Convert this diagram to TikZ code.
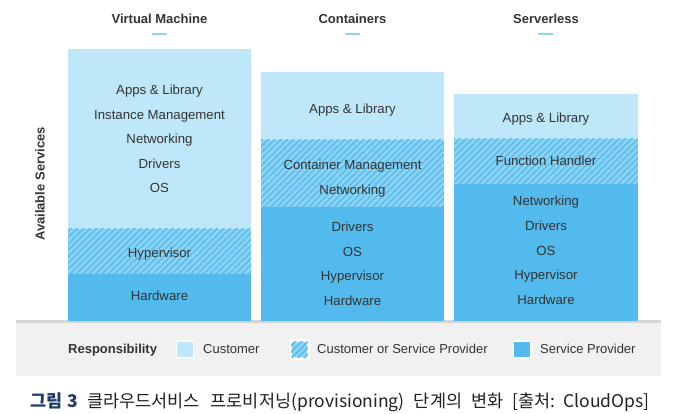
\documentclass[tikz,border=0pt]{standalone}
\usepackage{fontspec}
\setmainfont{Liberation Sans}
\newfontfamily\krfont{Noto Sans CJK KR}
\usetikzlibrary{patterns.meta}
\definecolor{lightb}{HTML}{BEE8FA}
\definecolor{darkb}{HTML}{52BAEC}
\definecolor{hatchbase}{HTML}{8DD3F4}
\definecolor{hatchline}{HTML}{5CBEEE}
\definecolor{txt}{HTML}{333333}
\definecolor{captxt}{HTML}{222222}
\definecolor{bandc}{HTML}{F1F1F1}
\definecolor{bandline}{HTML}{D6D6D6}
\definecolor{navy}{HTML}{1F3A6B}
\definecolor{ulc}{HTML}{8ED3F3}
\tikzset{
 lbl/.style={font=\fontsize{13.2}{15}\selectfont, text=txt, inner sep=0pt, anchor=base},
 head/.style={font=\bfseries\fontsize{13}{15}\selectfont, text=txt, inner sep=0pt},
 hatch/.style={pattern={Lines[angle=45,distance=4.5pt,line width=1.6pt]}, pattern color=hatchline},
 legbox/.style={draw=white, line width=1.5pt, minimum width=17pt, minimum height=17pt, inner sep=0pt},
 legtxt/.style={font=\fontsize{13}{15}\selectfont, text=txt, inner sep=0pt, anchor=base west},
 uline/.style={draw=ulc, line width=2pt},
}
\begin{document}
\begin{tikzpicture}[x=1pt,y=-1pt]
\useasboundingbox (0,0) rectangle (678,414);
\fill[white] (0,0) rectangle (678,414);
% band
\fill[bandc] (16,321) rectangle (661,376);
\fill[bandline] (16,320) rectangle (661,323);
% VM column
\fill[lightb] (68,49.5) rectangle (251,229);
\fill[hatchbase] (68,229) rectangle (251,274);
\fill[hatch] (68,229) rectangle (251,274);
\fill[darkb] (68,274) rectangle (251,321);
% Containers column
\fill[lightb] (261,72) rectangle (444,140);
\fill[hatchbase] (261,140) rectangle (444,207);
\fill[hatch] (261,140) rectangle (444,207);
\fill[darkb] (261,207) rectangle (444,321);
% Serverless column
\fill[lightb] (454,94) rectangle (638,139);
\fill[hatchbase] (454,139) rectangle (638,184);
\fill[hatch] (454,139) rectangle (638,184);
\fill[darkb] (454,184) rectangle (638,321);
% headers
\node[head, anchor=base] (h1) at (159.5,23.3) {Virtual Machine};
\node[head, anchor=base] (h2) at (352.5,23.3) {Containers};
\node[head, anchor=base] (h3) at (546,23.3) {Serverless};
\coordinate (u1a) at (152,34); \coordinate (u1b) at (167,34);
\coordinate (u2a) at (345,34); \coordinate (u2b) at (360,34);
\coordinate (u3a) at (538,34); \coordinate (u3b) at (553,34);
\draw[uline] (u1a) -- (u1b);
\draw[uline] (u2a) -- (u2b);
\draw[uline] (u3a) -- (u3b);
\node[head, rotate=90] (avail) at (40,184) {Available Services};
% VM labels
\node[lbl] (v1) at (159.5,95) {Apps \& Library};
\node[lbl] (v2) at (159.5,119.5) {Instance Management};
\node[lbl] (v3) at (159.5,144) {Networking};
\node[lbl] (v4) at (159.5,168.3) {Drivers};
\node[lbl] (v5) at (159.5,192.7) {OS};
\node[lbl] (v6) at (159.5,257.5) {Hypervisor};
\node[lbl] (v7) at (159.5,300.8) {Hardware};
% Containers labels
\node[lbl] (c1) at (352.5,114) {Apps \& Library};
\node[lbl] (c2) at (352.5,170) {Container Management};
\node[lbl] (c3) at (352.5,194.3) {Networking};
\node[lbl] (c4) at (352.5,231.7) {Drivers};
\node[lbl] (c5) at (352.5,256.5) {OS};
\node[lbl] (c6) at (352.5,280.7) {Hypervisor};
\node[lbl] (c7) at (352.5,305.3) {Hardware};
% Serverless labels
\node[lbl] (s1) at (546,122.3) {Apps \& Library};
\node[lbl] (s2) at (546,165.7) {Function Handler};
\node[lbl] (s3) at (546,206) {Networking};
\node[lbl] (s4) at (546,230.7) {Drivers};
\node[lbl] (s5) at (546,255.2) {OS};
\node[lbl] (s6) at (546,280) {Hypervisor};
\node[lbl] (s7) at (546,304.3) {Hardware};
% legend
\node[head, anchor=base west] (resp) at (68,353.3) {Responsibility};
\node[legbox, fill=lightb] (k1) at (185,349.5) {};
\node[legtxt] (t1) at (203,353.3) {Customer};
\node[legbox, fill=hatchbase] (k2) at (299.5,349.5) {};
\fill[hatch] (k2.south west) rectangle (k2.north east);
\draw[white, line width=1.5pt] (k2.south west) rectangle (k2.north east);
\node[legtxt] (t2) at (317,353.3) {Customer or Service Provider};
\node[legbox, fill=darkb] (k3) at (522,349.5) {};
\node[legtxt] (t3) at (540,353.3) {Service Provider};
% caption
\node[anchor=base west, inner sep=0pt, font=\krfont\fontsize{17.5}{20}\selectfont, text=captxt] (cap) at (30,407)
 {{\color{navy}\bfseries 그림\hspace{5pt}3}\hspace{9pt}클라우드서비스\hspace{11pt}프로비저닝(provisioning)\hspace{9pt}단계의\hspace{9pt}변화\hspace{9pt}[출처:\hspace{8pt}CloudOps]};
\end{tikzpicture}
\end{document}
